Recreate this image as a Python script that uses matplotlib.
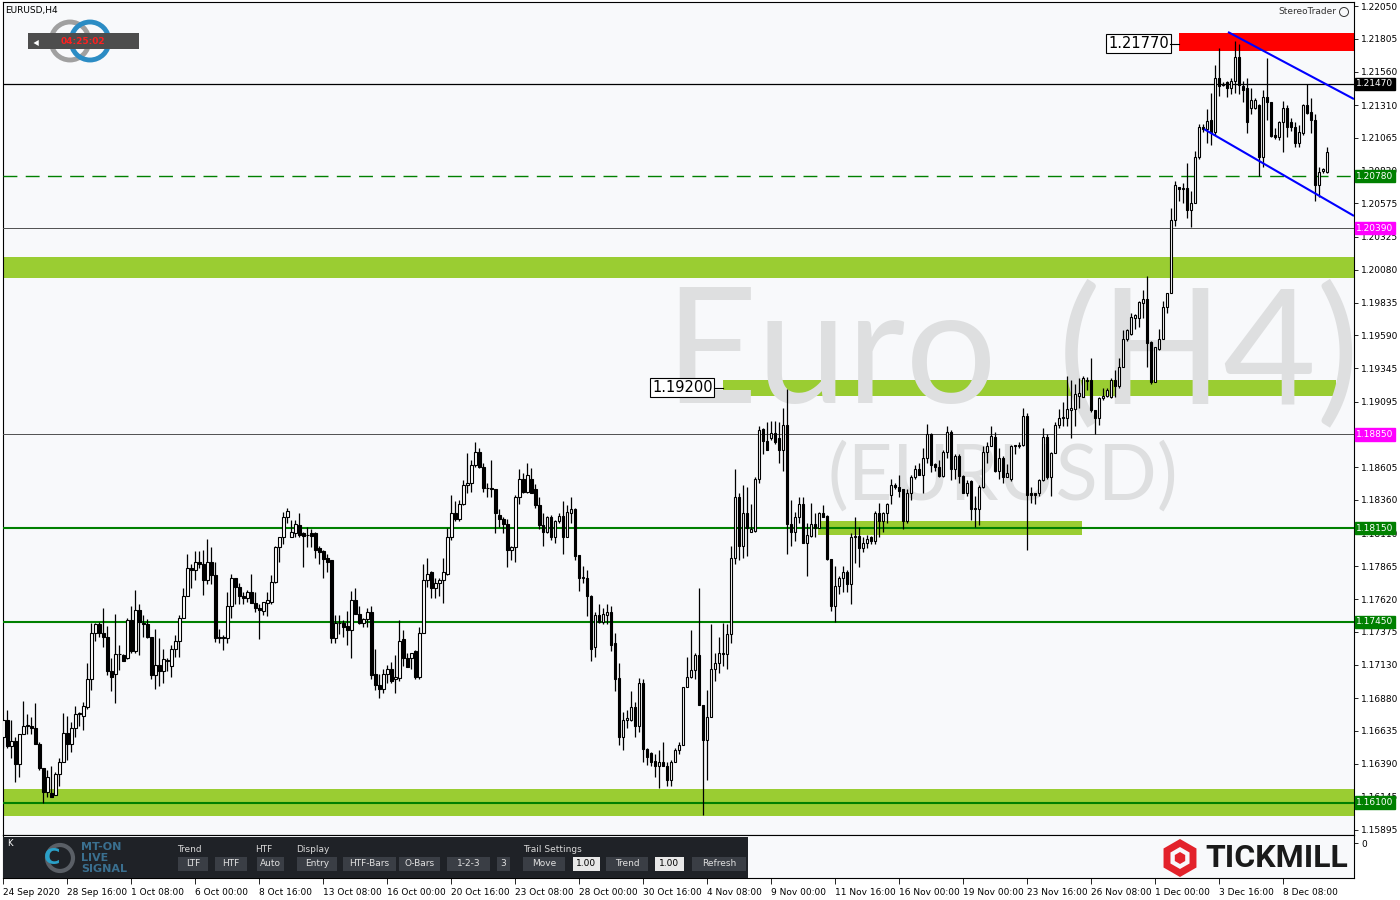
import matplotlib
matplotlib.use("Agg")
import matplotlib.pyplot as plt
from matplotlib.patches import Rectangle, Circle, RegularPolygon
import numpy as np

# EURUSD H4 candles, 24 Sep 2020 - 9 Dec 2020
opens = [
    1.1659, 1.1672, 1.1652, 1.1656, 1.1639, 1.1661, 1.1667, 1.1667, 1.1666, 1.1654,
    1.1636, 1.1618, 1.1617, 1.1616, 1.1631, 1.1640, 1.1662, 1.1654, 1.1666, 1.1676,
    1.1675, 1.1681, 1.1702, 1.1737, 1.1743, 1.1737, 1.1734, 1.1708, 1.1706, 1.1721,
    1.1720, 1.1718, 1.1746, 1.1723, 1.1754, 1.1744, 1.1743, 1.1734, 1.1705, 1.1713,
    1.1708, 1.1716, 1.1712, 1.1725, 1.1731, 1.1748, 1.1764, 1.1785, 1.1784, 1.1790,
    1.1788, 1.1776, 1.1790, 1.1780, 1.1733, 1.1734, 1.1733, 1.1757, 1.1778, 1.1771,
    1.1764, 1.1763, 1.1767, 1.1759, 1.1755, 1.1753, 1.1759, 1.1760, 1.1775, 1.1801,
    1.1808, 1.1823, 1.1808, 1.1811, 1.1817, 1.1811, 1.1810, 1.1811, 1.1811, 1.1800,
    1.1798, 1.1793, 1.1791, 1.1733, 1.1744, 1.1744, 1.1742, 1.1739, 1.1761, 1.1751,
    1.1744, 1.1747, 1.1752, 1.1706, 1.1698, 1.1695, 1.1706, 1.1710, 1.1702, 1.1703,
    1.1732, 1.1718, 1.1718, 1.1723, 1.1704, 1.1737, 1.1776, 1.1782, 1.1770, 1.1774,
    1.1776, 1.1781, 1.1808, 1.1826, 1.1822, 1.1833, 1.1847, 1.1849, 1.1862, 1.1872,
    1.1861, 1.1845, 1.1845, 1.1844, 1.1825, 1.1822, 1.1818, 1.1799, 1.1801, 1.1838,
    1.1852, 1.1842, 1.1852, 1.1844, 1.1832, 1.1817, 1.1812, 1.1823, 1.1808, 1.1820,
    1.1824, 1.1808, 1.1826, 1.1829, 1.1795, 1.1778, 1.1778, 1.1764, 1.1726, 1.1750,
    1.1745, 1.1750, 1.1752, 1.1729, 1.1703, 1.1659, 1.1672, 1.1672, 1.1681, 1.1667,
    1.1699, 1.1650, 1.1647, 1.1641, 1.1637, 1.1640, 1.1637, 1.1627, 1.1640, 1.1649,
    1.1653, 1.1696, 1.1704, 1.1709, 1.1720, 1.1683, 1.1657, 1.1674, 1.1710, 1.1714,
    1.1722, 1.1721, 1.1736, 1.1793, 1.1838, 1.1802, 1.1826, 1.1812, 1.1813, 1.1852,
    1.1889, 1.1880, 1.1882, 1.1886, 1.1882, 1.1873, 1.1892, 1.1818, 1.1812, 1.1823,
    1.1833, 1.1804, 1.1809, 1.1818, 1.1815, 1.1826, 1.1824, 1.1792, 1.1757, 1.1772,
    1.1778, 1.1782, 1.1773, 1.1808, 1.1809, 1.1800, 1.1804, 1.1808, 1.1805, 1.1826,
    1.1820, 1.1826, 1.1840, 1.1847, 1.1846, 1.1844, 1.1820, 1.1841, 1.1853, 1.1859,
    1.1855, 1.1867, 1.1885, 1.1863, 1.1861, 1.1854, 1.1872, 1.1887, 1.1859, 1.1869,
    1.1854, 1.1841, 1.1850, 1.1829, 1.1829, 1.1846, 1.1872, 1.1876, 1.1883, 1.1858,
    1.1867, 1.1853, 1.1852, 1.1876, 1.1876, 1.1877, 1.1899, 1.1841, 1.1841, 1.1841,
    1.1851, 1.1883, 1.1853, 1.1871, 1.1892, 1.1897, 1.1897, 1.1903, 1.1904, 1.1914,
    1.1913, 1.1925, 1.1926, 1.1903, 1.1897, 1.1912, 1.1914, 1.1913, 1.1926, 1.1921,
    1.1935, 1.1956, 1.1960, 1.1972, 1.1972, 1.1983, 1.1986, 1.1954, 1.1924, 1.1949,
    1.1956, 1.1980, 1.1991, 1.2045, 1.2070, 1.2068, 1.2069, 1.2053, 1.2058, 1.2092,
    1.2115, 1.2113, 1.2120, 1.2111, 1.2151, 1.2146, 1.2148, 1.2144, 1.2149, 1.2167,
    1.2145, 1.2144, 1.2129, 1.2129, 1.2131, 1.2092, 1.2137, 1.2133, 1.2109, 1.2107,
    1.2118, 1.2129, 1.2118, 1.2115, 1.2103, 1.2110, 1.2131, 1.2126, 1.2120, 1.2071,
    1.2082, 1.2081,
]
highs = [
    1.1672, 1.1679, 1.1672, 1.1659, 1.1661, 1.1686, 1.1676, 1.1674, 1.1684, 1.1655,
    1.1636, 1.1634, 1.1637, 1.1633, 1.1643, 1.1677, 1.1675, 1.1670, 1.1682, 1.1678,
    1.1685, 1.1714, 1.1744, 1.1744, 1.1745, 1.1755, 1.1742, 1.1718, 1.1751, 1.1728,
    1.1721, 1.1748, 1.1757, 1.1769, 1.1758, 1.1750, 1.1747, 1.1734, 1.1740, 1.1733,
    1.1725, 1.1718, 1.1728, 1.1735, 1.1750, 1.1770, 1.1796, 1.1788, 1.1798, 1.1798,
    1.1799, 1.1807, 1.1801, 1.1790, 1.1740, 1.1735, 1.1767, 1.1781, 1.1778, 1.1774,
    1.1767, 1.1769, 1.1781, 1.1767, 1.1758, 1.1760, 1.1767, 1.1780, 1.1802, 1.1808,
    1.1827, 1.1830, 1.1821, 1.1821, 1.1826, 1.1812, 1.1816, 1.1814, 1.1812, 1.1802,
    1.1799, 1.1796, 1.1791, 1.1750, 1.1750, 1.1746, 1.1753, 1.1768, 1.1770, 1.1757,
    1.1748, 1.1755, 1.1757, 1.1725, 1.1706, 1.1710, 1.1713, 1.1715, 1.1720, 1.1746,
    1.1739, 1.1722, 1.1722, 1.1724, 1.1741, 1.1788, 1.1793, 1.1783, 1.1778, 1.1778,
    1.1793, 1.1815, 1.1840, 1.1835, 1.1836, 1.1851, 1.1871, 1.1866, 1.1879, 1.1875,
    1.1864, 1.1849, 1.1866, 1.1844, 1.1829, 1.1823, 1.1822, 1.1802, 1.1840, 1.1859,
    1.1856, 1.1864, 1.1860, 1.1848, 1.1838, 1.1826, 1.1824, 1.1825, 1.1821, 1.1826,
    1.1835, 1.1832, 1.1838, 1.1830, 1.1795, 1.1787, 1.1784, 1.1765, 1.1752, 1.1758,
    1.1755, 1.1758, 1.1757, 1.1737, 1.1714, 1.1678, 1.1679, 1.1693, 1.1685, 1.1703,
    1.1702, 1.1651, 1.1648, 1.1646, 1.1649, 1.1655, 1.1640, 1.1642, 1.1651, 1.1655,
    1.1696, 1.1719, 1.1739, 1.1722, 1.1770, 1.1683, 1.1694, 1.1743, 1.1722, 1.1734,
    1.1744, 1.1743, 1.1802, 1.1859, 1.1841, 1.1847, 1.1846, 1.1833, 1.1853, 1.1891,
    1.1890, 1.1894, 1.1895, 1.1895, 1.1894, 1.1905, 1.1919, 1.1836, 1.1827, 1.1838,
    1.1838, 1.1819, 1.1834, 1.1826, 1.1827, 1.1832, 1.1825, 1.1792, 1.1787, 1.1779,
    1.1787, 1.1784, 1.1811, 1.1823, 1.1816, 1.1808, 1.1810, 1.1809, 1.1828, 1.1834,
    1.1827, 1.1834, 1.1852, 1.1849, 1.1855, 1.1844, 1.1844, 1.1855, 1.1862, 1.1864,
    1.1875, 1.1893, 1.1886, 1.1864, 1.1866, 1.1873, 1.1891, 1.1888, 1.1870, 1.1870,
    1.1855, 1.1851, 1.1851, 1.1839, 1.1847, 1.1876, 1.1879, 1.1891, 1.1887, 1.1875,
    1.1869, 1.1863, 1.1877, 1.1877, 1.1879, 1.1905, 1.1901, 1.1846, 1.1841, 1.1852,
    1.1890, 1.1885, 1.1872, 1.1894, 1.1904, 1.1909, 1.1929, 1.1926, 1.1923, 1.1927,
    1.1929, 1.1928, 1.1942, 1.1903, 1.1913, 1.1920, 1.1920, 1.1927, 1.1933, 1.1942,
    1.1963, 1.1964, 1.1976, 1.1975, 1.1985, 1.1993, 1.2003, 1.1955, 1.1950, 1.1964,
    1.1985, 1.1991, 1.2054, 1.2074, 1.2070, 1.2073, 1.2088, 1.2067, 1.2097, 1.2117,
    1.2117, 1.2128, 1.2140, 1.2161, 1.2174, 1.2148, 1.2149, 1.2151, 1.2179, 1.2177,
    1.2149, 1.2151, 1.2144, 1.2136, 1.2132, 1.2142, 1.2166, 1.2133, 1.2114, 1.2119,
    1.2134, 1.2131, 1.2121, 1.2118, 1.2116, 1.2132, 1.2147, 1.2136, 1.2124, 1.2085,
    1.2084, 1.2100,
]
lows = [
    1.1651, 1.1651, 1.1643, 1.1625, 1.1629, 1.1661, 1.1661, 1.1661, 1.1654, 1.1634,
    1.1610, 1.1614, 1.1614, 1.1616, 1.1622, 1.1640, 1.1642, 1.1648, 1.1659, 1.1667,
    1.1664, 1.1680, 1.1694, 1.1731, 1.1734, 1.1726, 1.1705, 1.1693, 1.1684, 1.1709,
    1.1716, 1.1717, 1.1722, 1.1722, 1.1720, 1.1734, 1.1733, 1.1702, 1.1695, 1.1697,
    1.1699, 1.1708, 1.1704, 1.1719, 1.1719, 1.1748, 1.1764, 1.1770, 1.1776, 1.1785,
    1.1765, 1.1773, 1.1773, 1.1730, 1.1729, 1.1724, 1.1729, 1.1748, 1.1758, 1.1758,
    1.1758, 1.1760, 1.1759, 1.1752, 1.1732, 1.1750, 1.1749, 1.1758, 1.1774, 1.1790,
    1.1803, 1.1819, 1.1808, 1.1808, 1.1808, 1.1786, 1.1801, 1.1801, 1.1793, 1.1788,
    1.1778, 1.1782, 1.1729, 1.1729, 1.1736, 1.1734, 1.1728, 1.1718, 1.1751, 1.1743,
    1.1741, 1.1741, 1.1702, 1.1694, 1.1688, 1.1692, 1.1699, 1.1699, 1.1692, 1.1701,
    1.1712, 1.1711, 1.1710, 1.1702, 1.1702, 1.1737, 1.1771, 1.1763, 1.1763, 1.1764,
    1.1759, 1.1780, 1.1806, 1.1820, 1.1820, 1.1832, 1.1841, 1.1842, 1.1861, 1.1860,
    1.1842, 1.1838, 1.1838, 1.1811, 1.1816, 1.1811, 1.1786, 1.1791, 1.1790, 1.1833,
    1.1841, 1.1841, 1.1841, 1.1830, 1.1814, 1.1802, 1.1811, 1.1806, 1.1804, 1.1819,
    1.1796, 1.1808, 1.1819, 1.1791, 1.1768, 1.1774, 1.1749, 1.1716, 1.1719, 1.1744,
    1.1743, 1.1743, 1.1723, 1.1693, 1.1653, 1.1649, 1.1666, 1.1671, 1.1659, 1.1663,
    1.1640, 1.1638, 1.1637, 1.1629, 1.1621, 1.1637, 1.1622, 1.1622, 1.1640, 1.1646,
    1.1653, 1.1696, 1.1703, 1.1702, 1.1683, 1.1601, 1.1627, 1.1674, 1.1701, 1.1707,
    1.1712, 1.1710, 1.1729, 1.1788, 1.1791, 1.1793, 1.1794, 1.1812, 1.1812, 1.1849,
    1.1870, 1.1873, 1.1881, 1.1878, 1.1864, 1.1858, 1.1796, 1.1802, 1.1805, 1.1819,
    1.1804, 1.1779, 1.1808, 1.1808, 1.1815, 1.1823, 1.1791, 1.1753, 1.1745, 1.1766,
    1.1767, 1.1767, 1.1758, 1.1789, 1.1786, 1.1797, 1.1800, 1.1803, 1.1803, 1.1808,
    1.1812, 1.1819, 1.1833, 1.1844, 1.1838, 1.1814, 1.1819, 1.1836, 1.1852, 1.1855,
    1.1841, 1.1864, 1.1857, 1.1858, 1.1853, 1.1853, 1.1867, 1.1851, 1.1852, 1.1849,
    1.1841, 1.1839, 1.1821, 1.1816, 1.1817, 1.1845, 1.1864, 1.1876, 1.1857, 1.1852,
    1.1849, 1.1853, 1.1850, 1.1870, 1.1875, 1.1876, 1.1799, 1.1834, 1.1833, 1.1839,
    1.1850, 1.1852, 1.1839, 1.1871, 1.1890, 1.1891, 1.1891, 1.1882, 1.1891, 1.1905,
    1.1913, 1.1918, 1.1902, 1.1885, 1.1892, 1.1911, 1.1913, 1.1912, 1.1913, 1.1920,
    1.1935, 1.1955, 1.1959, 1.1964, 1.1965, 1.1972, 1.1935, 1.1923, 1.1924, 1.1948,
    1.1956, 1.1976, 1.1991, 1.2041, 1.2059, 1.2058, 1.2047, 1.2040, 1.2058, 1.2091,
    1.2111, 1.2103, 1.2101, 1.2109, 1.2138, 1.2145, 1.2137, 1.2139, 1.2140, 1.2139,
    1.2133, 1.2110, 1.2124, 1.2128, 1.2078, 1.2085, 1.2120, 1.2107, 1.2106, 1.2105,
    1.2096, 1.2107, 1.2112, 1.2100, 1.2100, 1.2109, 1.2124, 1.2110, 1.2059, 1.2062,
    1.2080, 1.2080,
]
closes = [
    1.1672, 1.1652, 1.1656, 1.1639, 1.1661, 1.1667, 1.1668, 1.1666, 1.1654, 1.1636,
    1.1618, 1.1629, 1.1614, 1.1631, 1.1640, 1.1662, 1.1654, 1.1666, 1.1676, 1.1677,
    1.1682, 1.1702, 1.1737, 1.1743, 1.1737, 1.1734, 1.1708, 1.1704, 1.1721, 1.1721,
    1.1716, 1.1746, 1.1723, 1.1754, 1.1745, 1.1743, 1.1734, 1.1705, 1.1713, 1.1708,
    1.1717, 1.1716, 1.1725, 1.1731, 1.1748, 1.1764, 1.1785, 1.1784, 1.1790, 1.1788,
    1.1776, 1.1790, 1.1780, 1.1733, 1.1734, 1.1733, 1.1757, 1.1778, 1.1771, 1.1764,
    1.1763, 1.1767, 1.1759, 1.1755, 1.1754, 1.1760, 1.1761, 1.1775, 1.1801, 1.1808,
    1.1823, 1.1828, 1.1812, 1.1818, 1.1810, 1.1809, 1.1810, 1.1809, 1.1799, 1.1797,
    1.1792, 1.1790, 1.1733, 1.1744, 1.1744, 1.1741, 1.1739, 1.1761, 1.1751, 1.1744,
    1.1747, 1.1752, 1.1705, 1.1698, 1.1695, 1.1706, 1.1710, 1.1701, 1.1704, 1.1731,
    1.1718, 1.1711, 1.1722, 1.1704, 1.1737, 1.1776, 1.1781, 1.1770, 1.1774, 1.1776,
    1.1782, 1.1808, 1.1826, 1.1822, 1.1833, 1.1847, 1.1849, 1.1862, 1.1872, 1.1861,
    1.1845, 1.1845, 1.1844, 1.1826, 1.1822, 1.1818, 1.1799, 1.1801, 1.1838, 1.1852,
    1.1842, 1.1855, 1.1841, 1.1832, 1.1817, 1.1812, 1.1823, 1.1808, 1.1820, 1.1824,
    1.1808, 1.1827, 1.1829, 1.1794, 1.1778, 1.1778, 1.1764, 1.1725, 1.1750, 1.1745,
    1.1751, 1.1752, 1.1728, 1.1702, 1.1659, 1.1672, 1.1673, 1.1681, 1.1667, 1.1699,
    1.1650, 1.1644, 1.1640, 1.1637, 1.1640, 1.1637, 1.1627, 1.1640, 1.1649, 1.1653,
    1.1696, 1.1704, 1.1709, 1.1720, 1.1683, 1.1657, 1.1674, 1.1710, 1.1714, 1.1722,
    1.1721, 1.1736, 1.1793, 1.1838, 1.1802, 1.1826, 1.1815, 1.1814, 1.1852, 1.1888,
    1.1880, 1.1873, 1.1886, 1.1879, 1.1873, 1.1892, 1.1818, 1.1812, 1.1823, 1.1833,
    1.1804, 1.1810, 1.1818, 1.1815, 1.1826, 1.1823, 1.1792, 1.1757, 1.1772, 1.1778,
    1.1782, 1.1773, 1.1808, 1.1809, 1.1800, 1.1804, 1.1807, 1.1805, 1.1826, 1.1820,
    1.1826, 1.1833, 1.1847, 1.1846, 1.1843, 1.1820, 1.1841, 1.1853, 1.1859, 1.1855,
    1.1867, 1.1885, 1.1862, 1.1861, 1.1854, 1.1872, 1.1887, 1.1859, 1.1869, 1.1854,
    1.1841, 1.1849, 1.1829, 1.1830, 1.1846, 1.1872, 1.1876, 1.1884, 1.1858, 1.1867,
    1.1853, 1.1856, 1.1876, 1.1877, 1.1877, 1.1899, 1.1840, 1.1840, 1.1840, 1.1851,
    1.1883, 1.1853, 1.1871, 1.1892, 1.1897, 1.1898, 1.1904, 1.1905, 1.1915, 1.1916,
    1.1927, 1.1926, 1.1903, 1.1897, 1.1912, 1.1914, 1.1918, 1.1926, 1.1921, 1.1935,
    1.1956, 1.1963, 1.1973, 1.1974, 1.1984, 1.1986, 1.1953, 1.1924, 1.1950, 1.1956,
    1.1980, 1.1991, 1.2045, 1.2071, 1.2068, 1.2069, 1.2053, 1.2058, 1.2092, 1.2115,
    1.2113, 1.2119, 1.2111, 1.2151, 1.2145, 1.2147, 1.2144, 1.2149, 1.2167, 1.2146,
    1.2142, 1.2118, 1.2135, 1.2135, 1.2092, 1.2137, 1.2133, 1.2108, 1.2107, 1.2118,
    1.2129, 1.2115, 1.2115, 1.2103, 1.2111, 1.2131, 1.2125, 1.2120, 1.2071, 1.2081,
    1.2083, 1.2096,
]

# right price scale (1.18850 sits under its own marker, so it is not repeated)
price_ticks = [1.22050, 1.21805, 1.21560, 1.21310, 1.21065, 1.20820, 1.20575, 1.20325,
               1.20080, 1.19835, 1.19590, 1.19345, 1.19095, 1.18605, 1.18360,
               1.18110, 1.17865, 1.17620, 1.17375, 1.17130, 1.16880, 1.16635, 1.16390,
               1.16145, 1.15895]

# time axis, one label every 16 bars
time_labels = ["24 Sep 2020", "28 Sep 16:00", "1 Oct 08:00", "6 Oct 00:00", "8 Oct 16:00",
               "13 Oct 08:00", "16 Oct 00:00", "20 Oct 16:00", "23 Oct 08:00", "28 Oct 00:00",
               "30 Oct 16:00", "4 Nov 08:00", "9 Nov 00:00", "11 Nov 16:00", "16 Nov 00:00",
               "19 Nov 00:00", "23 Nov 16:00", "26 Nov 08:00", "1 Dec 00:00", "3 Dec 16:00",
               "8 Dec 08:00"]

# drawn levels
green_levels = [1.18150, 1.17450, 1.16100]
resistance_line = 1.21470
dashed_level = 1.20780
grey_levels = [1.20390, 1.18850]
axis_marks = [(1.21470, "#000000"), (1.20780, "#008000"), (1.20390, "#ff00ff"),
              (1.18850, "#ff00ff"), (1.18150, "#008000"), (1.17450, "#008000"),
              (1.16100, "#008000")]

# zones: (first bar, last bar, low, high)
green_zones = [(None, None, 1.20018, 1.20175),
               (179.9, 333.2, 1.19137, 1.19256),
               (203.7, 269.7, 1.18099, 1.18203),
               (None, None, 1.15999, 1.16201)]
red_zone = (293.9, None, 1.21714, 1.21848)
zone_labels = [(1.21770, 276.2, 293.9), (1.19200, 162.2, 179.9)]

# descending channel: (bar, price) ends
channel_upper = ([306.2, 337.7], [1.21856, 1.21355])
channel_lower = ([300.2, 337.7], [1.21131, 1.20482])

W, H = 1400, 900
BG = "#f8f9fb"
XMIN, XMAX = -0.075, 337.7
YMIN, YMAX = 1.158575, 1.220801

fig = plt.figure(figsize=(14, 9), dpi=100)
fig.patch.set_facecolor("white")
ax = fig.add_axes([3 / W, 1 - 835 / H, 1351 / W, 833 / H])
ax.set_facecolor(BG)
ax.set_xlim(XMIN, XMAX)
ax.set_ylim(YMIN, YMAX)
for s in ax.spines.values():
    s.set_color("black")
    s.set_linewidth(0.8)
ax.set_xticks([])
ax.yaxis.tick_right()
ax.set_yticks(price_ticks)
ax.set_yticklabels([f"{t:.5f}" for t in price_ticks])
ax.tick_params(axis="y", labelsize=6.5, length=3, pad=2, width=0.6)


def P(x, y):
    # pixel position in the picture -> inches for dpi_scale_trans
    return (x / 100.0, (H - y) / 100.0)


T = fig.dpi_scale_trans

# watermark (clipped to the chart like in the terminal)
wm = dict(transform=T, family="Lato", color="#dedfe0", ha="left", va="baseline",
          zorder=2, clip_on=True)
ax.text(*P(664, 403), "Euro", fontsize=116, **wm)
ax.text(*P(1058, 403), "(H4)", fontsize=116, **wm)
ax.text(*P(828, 500), "(EURUSD)", fontsize=56, **wm)

# zones
for x0, x1, lo, hi in green_zones:
    if x0 is None:
        ax.axhspan(lo, hi, color="#9acd32", lw=0, zorder=1)
    else:
        ax.add_patch(Rectangle((x0, lo), x1 - x0, hi - lo, color="#9acd32", lw=0, zorder=1))
x0, x1, lo, hi = red_zone
ax.add_patch(Rectangle((x0, lo), XMAX - x0, hi - lo, color="#ff0000", lw=0, zorder=1))

# level lines
ax.axhline(resistance_line, color="black", lw=0.9, zorder=3)
ax.axhline(dashed_level, color="#008000", lw=1.0, dashes=(10, 6), zorder=3)
for g in grey_levels:
    ax.axhline(g, color="#505050", lw=0.7, zorder=3)
for g in green_levels:
    ax.axhline(g, color="#008000", lw=1.5, zorder=3)

for price, xl, xend in zone_labels:
    ax.text(xl, price, f"{price:.5f}", fontsize=10.5, ha="left", va="center",
            bbox=dict(boxstyle="square,pad=0.12", fc="white", ec="black", lw=0.8), zorder=6)
    ax.plot([xl + 15.5, xend], [price, price], color="black", lw=0.8, zorder=6)

# candles
o, hi_, lo_, c = (np.array(a) for a in (opens, highs, lows, closes))
hi_ = np.maximum(hi_, np.maximum(o, c))
lo_ = np.minimum(lo_, np.minimum(o, c))
x = np.arange(len(c))
up = c >= o
ax.vlines(x, lo_, hi_, color="black", lw=0.9, zorder=4)
body_lo = np.minimum(o, c)
body_h = np.maximum(np.abs(c - o), 0.000015)
ax.bar(x[up], body_h[up], bottom=body_lo[up], width=0.62, color="white",
       edgecolor="black", lw=0.8, zorder=5)
ax.bar(x[~up], body_h[~up], bottom=body_lo[~up], width=0.62, color="black",
       edgecolor="black", lw=0.8, zorder=5)

# channel
ax.plot(*channel_upper, color="#0000ff", lw=1.5, zorder=6, solid_capstyle="butt")
ax.plot(*channel_lower, color="#0000ff", lw=1.5, zorder=6, solid_capstyle="butt")

# marked prices on the scale
for price, col in axis_marks:
    ax.text(1.0016, price, f"{price:.5f}", transform=ax.get_yaxis_transform(),
            fontsize=6.5, color="white", ha="left", va="center", clip_on=False,
            bbox=dict(boxstyle="square,pad=0.18", fc=col, ec=col), zorder=10)

# header texts
ax.text(*P(5, 10), "EURUSD,H4", transform=T, fontsize=6.5, ha="left", va="center", zorder=10)
ax.text(*P(1336, 12), "StereoTrader", transform=T, fontsize=6.5, ha="right", va="center",
        color="#333333", zorder=10)
ax.add_patch(Circle(P(1344, 12), 0.045, transform=T, fc="none", ec="#333333", lw=0.7, zorder=10))

# small logo top left
ax.add_patch(Circle(P(70, 41), 0.19, transform=T, fc="none", ec="#a0a0a0", lw=3.5, zorder=8))
ax.add_patch(Circle(P(90, 41), 0.19, transform=T, fc="none", ec="#2b8cc4", lw=3.5, zorder=8))
ax.add_patch(Rectangle(P(28, 49), 1.11, 0.16, transform=T, fc="#4d4d4d", ec="none", zorder=9))
ax.add_patch(RegularPolygon(P(37, 43), 3, radius=0.035, orientation=np.pi / 2, transform=T,
                            fc="white", ec="none", zorder=10))
ax.text(*P(83, 41), "04:25:02", transform=T, fontsize=6.5, color="#ff2020", weight="bold",
        ha="center", va="center", zorder=10)

# indicator sub window with the time axis
sub = fig.add_axes([3 / W, 1 - 878 / H, 1351 / W, 43 / H])
sub.set_facecolor(BG)
sub.set_xlim(XMIN, XMAX)
sub.set_ylim(0, 1)
for s in sub.spines.values():
    s.set_color("black")
    s.set_linewidth(0.8)
sub.yaxis.tick_right()
sub.set_yticks([0.81])
sub.set_yticklabels(["0"])
sub.tick_params(axis="y", labelsize=6.5, length=3, pad=2, width=0.6)
sub.set_xticks(np.arange(len(time_labels)) * 16)
sub.set_xticklabels(time_labels)
sub.tick_params(axis="x", labelsize=6.5, length=4, pad=3, width=0.6, direction="out")
for lab in sub.get_xticklabels():
    lab.set_ha("left")

# control panel
def box(x0, y0, x1, y1, fc, ec="none", lw=0.0, z=11):
    fig.add_artist(Rectangle(P(x0, y1), (x1 - x0) / 100, (y1 - y0) / 100, transform=T,
                             fc=fc, ec=ec, lw=lw, zorder=z))


def label(xp, yp, s, col="#d8d8d8", size=6.5, ha="left", **kw):
    fig.text(*P(xp, yp), s, transform=T, fontsize=size, color=col, ha=ha, va="center",
             zorder=13, **kw)


box(3, 837, 748, 878, "#1f2227")
label(7, 843, "K", col="white", size=6)
fig.add_artist(Circle(P(60, 858), 0.13, transform=T, fc="none", ec="#5a5f66", lw=3, zorder=12))
label(44, 858, "C", col="#2aa0c8", size=16, weight="bold")
label(81, 847, "MT-ON", col="#3a6f8f", size=8, weight="bold")
label(81, 858, "LIVE", col="#3a6f8f", size=8, weight="bold")
label(81, 869, "SIGNAL", col="#3a6f8f", size=8, weight="bold")

label(177, 849, "Trend")
label(255, 849, "HTF")
label(296, 849, "Display")
label(523, 849, "Trail Settings")
buttons = [(178, 208, "LTF"), (215, 247, "HTF"), (257, 284, "Auto"), (297, 337, "Entry"),
           (343, 396, "HTF-Bars"), (399, 440, "O-Bars"), (447, 490, "1-2-3"), (497, 510, "3"),
           (523, 565, "Move"), (573, 600, "1.00"), (606, 648, "Trend"), (655, 684, "1.00"),
           (692, 746, "Refresh")]
for x0, x1, s in buttons:
    light = s in ("1.00",)
    box(x0, 857, x1, 871, "#e8e8e8" if light else "#3a3e45", z=12)
    label((x0 + x1) / 2, 864, s, col="black" if light else "#e0e0e0", ha="center")

# broker logo
fig.add_artist(RegularPolygon(P(1180, 858), 6, radius=0.15, transform=T, fc="none",
                              ec="#e3222b", lw=5, zorder=12))
fig.add_artist(RegularPolygon(P(1180, 858), 6, radius=0.06, transform=T, fc="#e3222b",
                              ec="none", zorder=12))
fig.text(*P(1205, 858), "TICKMILL", transform=T, fontsize=23, family="Roboto", weight="bold",
         color="#1a1a1a", ha="left", va="center", zorder=12)

fig.savefig("out.png", dpi=100, facecolor="white")
